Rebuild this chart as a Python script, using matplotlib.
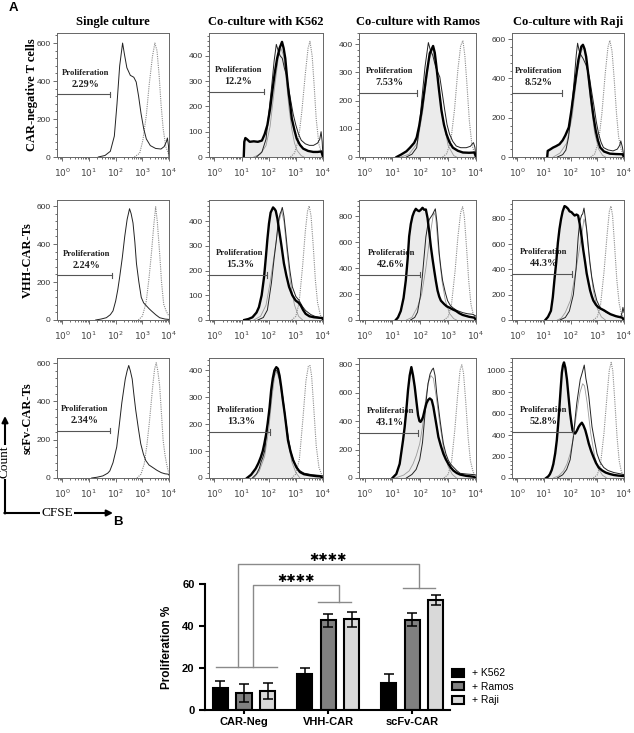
import matplotlib
matplotlib.use('Agg')
import matplotlib.pyplot as plt
from matplotlib.ticker import MultipleLocator, AutoMinorLocator, LogLocator, NullFormatter
from matplotlib.patches import Patch
import numpy as np

plt.rcParams['mathtext.fontset'] = 'stix'

# ---------------- data: flow histograms, points are (log10 CFSE, count) ----------------
col_titles = ['Single culture', 'Co-culture with K562', 'Co-culture with Ramos', 'Co-culture with Raji']
row_labels = ['CAR-negative T cells', 'VHH-CAR-Ts', 'scFv-CAR-Ts']

# CAR-negative T cells
neg_single_thin = [(1.35, 0), (1.6, 8), (1.8, 30), (1.95, 110), (2.05, 280), (2.15, 480), (2.26, 600), (2.33, 540),
                   (2.42, 470), (2.55, 430), (2.68, 420), (2.77, 395), (2.86, 320), (2.95, 230), (3.05, 150),
                   (3.15, 95), (3.3, 60), (3.5, 45), (3.7, 42), (3.82, 55), (3.9, 80), (3.94, 100), (3.98, 60), (4.0, 0)]
neg_single_dot = [(2.7, 0), (2.9, 20), (3.02, 88), (3.15, 220), (3.26, 385), (3.38, 530), (3.47, 600), (3.55, 560),
                  (3.63, 430), (3.7, 280), (3.78, 150), (3.88, 55), (3.96, 25), (4.0, 10)]

neg_k562_thick = [(1.08, 0), (1.1, 60), (1.14, 75), (1.2, 70), (1.3, 60), (1.45, 62), (1.6, 60), (1.75, 65), (1.85, 90),
                  (1.95, 126), (2.05, 190), (2.13, 258), (2.22, 330), (2.31, 390), (2.4, 430), (2.49, 455), (2.55, 430),
                  (2.61, 390), (2.67, 320), (2.73, 258), (2.8, 200), (2.85, 152), (2.95, 105), (3.03, 73), (3.15, 48),
                  (3.27, 33), (3.45, 24), (3.64, 20), (3.8, 20), (3.94, 22), (4.0, 0)]
neg_k562_thin = [(1.55, 0), (1.75, 20), (1.9, 70), (2.0, 170), (2.1, 270), (2.2, 380), (2.28, 445), (2.35, 420),
                 (2.42, 400), (2.5, 390), (2.58, 350), (2.65, 325), (2.72, 280), (2.8, 230), (2.9, 170), (3.0, 126),
                 (3.1, 90), (3.2, 66), (3.35, 52), (3.5, 46), (3.65, 46), (3.8, 55), (3.88, 70), (3.93, 100),
                 (3.97, 60), (4.0, 0)]
neg_k562_gray = [(1.45, 0), (1.7, 12), (1.9, 45), (2.05, 120), (2.2, 260), (2.35, 390), (2.45, 430), (2.55, 400),
                 (2.65, 300), (2.75, 190), (2.85, 110), (2.95, 55), (3.05, 25), (3.2, 5), (3.3, 0)]
neg_k562_dot = [(2.8, 0), (2.95, 15), (3.1, 70), (3.22, 180), (3.35, 330), (3.45, 430), (3.52, 457), (3.6, 400),
                (3.67, 290), (3.75, 150), (3.85, 50), (3.95, 15), (4.0, 5)]

neg_ramos_thick = [(1.15, 0), (1.3, 8), (1.5, 20), (1.63, 33), (1.78, 50), (1.87, 69), (1.96, 110), (2.05, 165),
                   (2.14, 230), (2.23, 296), (2.34, 368), (2.46, 394), (2.52, 370), (2.58, 320), (2.67, 240),
                   (2.76, 165), (2.85, 115), (2.94, 81), (3.05, 52), (3.17, 33), (3.35, 22), (3.53, 16), (3.75, 15),
                   (3.94, 16), (4.0, 0)]
neg_ramos_thin = [(1.5, 0), (1.7, 10), (1.87, 33), (1.96, 100), (2.05, 200), (2.17, 320), (2.29, 406), (2.36, 380),
                  (2.45, 360), (2.55, 320), (2.63, 300), (2.7, 284), (2.79, 225), (2.88, 165), (2.96, 115),
                  (3.05, 81), (3.17, 55), (3.29, 39), (3.45, 33), (3.65, 33), (3.8, 38), (3.88, 48), (3.91, 51),
                  (3.96, 35), (4.0, 0)]
neg_ramos_gray = [(1.3, 0), (1.6, 10), (1.9, 50), (2.1, 170), (2.3, 340), (2.45, 385), (2.6, 300), (2.8, 140),
                  (3.0, 40), (3.2, 5), (3.3, 0)]
neg_ramos_dot = [(2.8, 0), (2.95, 12), (3.1, 60), (3.23, 170), (3.35, 310), (3.45, 395), (3.53, 413), (3.6, 360),
                 (3.68, 250), (3.76, 130), (3.85, 45), (3.95, 12), (4.0, 5)]

neg_raji_thick = [(1.12, 0), (1.14, 31), (1.25, 40), (1.34, 48), (1.45, 55), (1.58, 65), (1.7, 85), (1.8, 110),
                  (1.93, 151), (2.02, 230), (2.11, 322), (2.2, 410), (2.29, 494), (2.4, 562), (2.46, 571), (2.52, 550),
                  (2.58, 511), (2.67, 410), (2.76, 305), (2.85, 210), (2.94, 134), (3.02, 85), (3.11, 48), (3.25, 28),
                  (3.47, 17), (3.7, 15), (3.94, 14), (4.0, 0)]
neg_raji_thin = [(1.5, 0), (1.7, 12), (1.82, 35), (1.92, 100), (2.0, 200), (2.08, 310), (2.15, 420), (2.21, 520),
                 (2.26, 579), (2.32, 540), (2.38, 520), (2.47, 500), (2.57, 470), (2.7, 408), (2.79, 330), (2.88, 254),
                 (2.96, 180), (3.05, 117), (3.14, 75), (3.23, 48), (3.4, 36), (3.59, 31), (3.75, 40), (3.84, 60),
                 (3.88, 82), (3.94, 50), (4.0, 0)]
neg_raji_gray = [(1.35, 0), (1.6, 20), (1.85, 70), (2.05, 200), (2.25, 430), (2.4, 540), (2.5, 560), (2.62, 450),
                 (2.75, 280), (2.9, 120), (3.05, 40), (3.2, 8), (3.3, 0)]
neg_raji_dot = [(2.75, 0), (2.9, 15), (3.05, 80), (3.17, 220), (3.3, 430), (3.4, 560), (3.47, 593), (3.55, 540),
                (3.63, 400), (3.72, 220), (3.8, 100), (3.9, 35), (3.97, 15), (4.0, 8)]

# VHH-CAR-Ts
vhh_single_thin = [(1.25, 0), (1.45, 5), (1.65, 12), (1.8, 28), (1.9, 48), (2.0, 100), (2.08, 160), (2.15, 226),
                   (2.25, 330), (2.34, 440), (2.43, 530), (2.52, 586), (2.58, 560), (2.65, 511), (2.72, 410),
                   (2.78, 297), (2.87, 200), (2.96, 119), (3.05, 90), (3.15, 75), (3.25, 60), (3.34, 48), (3.5, 28),
                   (3.65, 12), (3.85, 5), (4.0, 3)]
vhh_single_dot = [(2.85, 0), (3.0, 20), (3.1, 70), (3.15, 101), (3.25, 220), (3.34, 350), (3.43, 500), (3.5, 596),
                  (3.56, 520), (3.65, 350), (3.72, 200), (3.8, 84), (3.9, 45), (3.96, 30), (4.0, 20)]

vhh_k562_thick = [(1.1, 0), (1.25, 4), (1.4, 11), (1.55, 30), (1.64, 52), (1.74, 100), (1.83, 175), (1.9, 260),
                  (1.95, 325), (2.01, 390), (2.07, 434), (2.16, 455), (2.22, 448), (2.26, 441), (2.32, 410),
                  (2.38, 366), (2.47, 300), (2.56, 229), (2.65, 180), (2.75, 134), (2.87, 100), (2.99, 79), (3.1, 70),
                  (3.18, 59), (3.27, 40), (3.36, 25), (3.5, 15), (3.67, 11), (3.85, 9), (3.98, 8), (4.0, 0)]
vhh_k562_thin = [(1.6, 0), (1.8, 10), (1.95, 40), (2.1, 150), (2.2, 250), (2.28, 320), (2.35, 395), (2.42, 430),
                 (2.46, 440), (2.5, 455), (2.56, 420), (2.62, 360), (2.69, 284), (2.78, 200), (2.87, 134), (3.0, 95),
                 (3.12, 79), (3.24, 55), (3.36, 38), (3.55, 22), (3.7, 15), (3.85, 11), (4.0, 8)]
vhh_k562_gray = [(1.45, 0), (1.7, 15), (1.9, 60), (2.05, 150), (2.2, 260), (2.35, 380), (2.47, 440), (2.56, 400),
                 (2.68, 270), (2.8, 150), (2.95, 60), (3.1, 15), (3.25, 0)]
vhh_k562_dot = [(2.85, 0), (3.0, 15), (3.12, 70), (3.25, 220), (3.35, 360), (3.43, 440), (3.49, 461), (3.56, 420),
                (3.64, 300), (3.72, 160), (3.8, 70), (3.9, 20), (4.0, 5)]

vhh_ramos_thick = [(1.12, 0), (1.2, 20), (1.3, 70), (1.4, 170), (1.48, 305), (1.55, 480), (1.6, 644), (1.66, 740),
                   (1.72, 800), (1.78, 835), (1.84, 857), (1.9, 845), (1.96, 839), (2.02, 850), (2.08, 865),
                   (2.14, 850), (2.2, 852), (2.26, 787), (2.32, 680), (2.38, 565), (2.44, 470), (2.5, 383),
                   (2.56, 300), (2.62, 227), (2.68, 180), (2.74, 149), (2.86, 122), (2.95, 105), (3.04, 96),
                   (3.16, 82), (3.28, 70), (3.4, 52), (3.52, 39), (3.75, 25), (3.94, 18), (4.0, 0)]
vhh_ramos_thin = [(1.65, 0), (1.8, 20), (1.9, 60), (2.0, 180), (2.08, 350), (2.15, 520), (2.2, 640), (2.26, 720),
                  (2.32, 774), (2.44, 813), (2.5, 840), (2.54, 857), (2.6, 750), (2.68, 513), (2.74, 400),
                  (2.8, 305), (2.9, 210), (2.98, 149), (3.07, 115), (3.16, 96), (3.3, 75), (3.52, 57), (3.7, 48),
                  (3.88, 44), (4.0, 30)]
vhh_ramos_gray = [(1.5, 0), (1.7, 20), (1.9, 100), (2.05, 200), (2.2, 400), (2.35, 650), (2.48, 830), (2.55, 800),
                  (2.65, 550), (2.78, 300), (2.9, 150), (3.05, 50), (3.2, 10), (3.3, 0)]
vhh_ramos_dot = [(2.85, 0), (3.0, 25), (3.12, 120), (3.25, 380), (3.35, 640), (3.45, 830), (3.52, 873), (3.58, 800),
                 (3.66, 560), (3.74, 300), (3.82, 120), (3.9, 45), (4.0, 15)]

vhh_raji_thick = [(1.05, 0), (1.15, 25), (1.26, 73), (1.33, 180), (1.39, 315), (1.46, 460), (1.52, 611), (1.58, 720),
                  (1.64, 800), (1.7, 860), (1.77, 902), (1.83, 895), (1.9, 881), (1.96, 860), (2.03, 854), (2.09, 840),
                  (2.15, 827), (2.22, 835), (2.28, 827), (2.34, 760), (2.41, 660), (2.47, 558), (2.54, 460),
                  (2.6, 369), (2.67, 295), (2.73, 234), (2.79, 190), (2.85, 154), (2.95, 120), (3.04, 100),
                  (3.14, 88), (3.24, 78), (3.36, 62), (3.49, 46), (3.7, 30), (3.93, 19), (4.0, 0)]
vhh_raji_thin = [(1.6, 0), (1.8, 20), (1.95, 70), (2.1, 200), (2.2, 400), (2.28, 650), (2.34, 780), (2.41, 830),
                 (2.45, 840), (2.5, 886), (2.56, 790), (2.62, 680), (2.66, 585), (2.72, 460), (2.79, 342), (2.88, 240),
                 (2.98, 154), (3.1, 100), (3.24, 73), (3.36, 58), (3.49, 46), (3.7, 30), (3.87, 19), (3.93, 60),
                 (3.96, 100), (4.0, 60)]
vhh_raji_gray = [(1.5, 0), (1.65, 15), (1.8, 60), (2.0, 160), (2.22, 423), (2.41, 665), (2.5, 800), (2.58, 740),
                 (2.7, 480), (2.85, 230), (3.0, 90), (3.15, 25), (3.3, 0)]
vhh_raji_dot = [(2.85, 0), (3.0, 25), (3.12, 120), (3.25, 380), (3.36, 660), (3.45, 860), (3.51, 902), (3.57, 830),
                (3.65, 580), (3.73, 320), (3.82, 130), (3.9, 50), (4.0, 15)]

# scFv-CAR-Ts
scfv_single_thin = [(1.1, 0), (1.3, 4), (1.52, 11), (1.7, 25), (1.78, 37), (1.9, 80), (2.04, 162), (2.13, 270),
                    (2.23, 392), (2.3, 460), (2.36, 517), (2.43, 560), (2.49, 588), (2.55, 560), (2.62, 517),
                    (2.68, 440), (2.75, 357), (2.85, 260), (2.94, 179), (3.04, 125), (3.13, 91), (3.25, 68),
                    (3.39, 55), (3.55, 40), (3.71, 28), (3.85, 22), (3.97, 20), (4.0, 15)]
scfv_single_dot = [(2.8, 0), (2.95, 20), (3.07, 73), (3.17, 170), (3.26, 286), (3.33, 390), (3.39, 481), (3.46, 570),
                   (3.52, 602), (3.58, 560), (3.65, 481), (3.72, 330), (3.78, 197), (3.85, 120), (3.91, 73),
                   (3.97, 37), (4.0, 25)]

scfv_k562_thick = [(1.2, 0), (1.35, 12), (1.52, 35), (1.62, 55), (1.71, 78), (1.78, 100), (1.84, 128), (1.9, 160),
                   (1.96, 202), (2.03, 260), (2.09, 326), (2.15, 370), (2.21, 400), (2.28, 412), (2.34, 406),
                   (2.4, 380), (2.46, 338), (2.52, 290), (2.59, 239), (2.65, 190), (2.71, 140), (2.8, 100),
                   (2.9, 66), (3.02, 40), (3.15, 22), (3.3, 14), (3.52, 10), (3.75, 7), (3.9, 6), (4.0, 0)]
scfv_k562_thin = [(1.4, 0), (1.55, 15), (1.65, 35), (1.72, 60), (1.78, 75), (1.85, 100), (1.95, 190), (2.05, 280),
                  (2.15, 360), (2.25, 402), (2.33, 395), (2.42, 360), (2.52, 300), (2.62, 220), (2.72, 150),
                  (2.82, 95), (2.95, 55), (3.1, 30), (3.3, 18), (3.6, 12), (3.85, 10), (4.0, 8)]
scfv_k562_gray = [(1.45, 0), (1.65, 25), (1.85, 80), (2.0, 180), (2.12, 300), (2.22, 380), (2.3, 395), (2.4, 360),
                  (2.55, 260), (2.7, 140), (2.85, 60), (3.0, 20), (3.15, 0)]
scfv_k562_dot = [(2.85, 0), (3.0, 15), (3.13, 70), (3.26, 220), (3.37, 360), (3.46, 415), (3.52, 418), (3.58, 380),
                 (3.66, 260), (3.75, 120), (3.85, 40), (3.95, 12), (4.0, 5)]

scfv_ramos_thick = [(1.0, 0), (1.14, 28), (1.26, 99), (1.38, 264), (1.44, 359), (1.5, 480), (1.56, 618), (1.62, 720),
                    (1.68, 779), (1.74, 720), (1.8, 642), (1.86, 540), (1.92, 441), (1.97, 400), (2.01, 394),
                    (2.06, 410), (2.1, 430), (2.16, 480), (2.22, 524), (2.28, 548), (2.34, 559), (2.41, 548),
                    (2.47, 500), (2.53, 430), (2.59, 360), (2.65, 288), (2.74, 225), (2.83, 170), (2.92, 130),
                    (3.01, 99), (3.1, 72), (3.19, 52), (3.31, 35), (3.43, 24), (3.65, 15), (3.91, 9), (4.0, 0)]
scfv_ramos_thin = [(1.5, 0), (1.7, 25), (1.85, 60), (1.98, 130), (2.08, 250), (2.16, 430), (2.22, 560), (2.28, 665),
                   (2.35, 730), (2.42, 760), (2.47, 772), (2.53, 720), (2.59, 595), (2.65, 500), (2.71, 406),
                   (2.77, 320), (2.83, 241), (2.92, 170), (3.01, 123), (3.1, 95), (3.19, 76), (3.31, 52), (3.43, 33),
                   (3.65, 28), (3.91, 24), (4.0, 20)]
scfv_ramos_gray = [(1.1, 0), (1.4, 20), (1.6, 50), (1.74, 99), (1.86, 160), (1.98, 241), (2.08, 360), (2.16, 500),
                   (2.22, 590), (2.28, 665), (2.38, 720), (2.47, 700), (2.58, 560), (2.7, 380), (2.85, 190),
                   (3.0, 80), (3.15, 25), (3.3, 0)]
scfv_ramos_dot = [(2.85, 0), (3.0, 25), (3.12, 110), (3.24, 340), (3.34, 580), (3.43, 760), (3.49, 795), (3.55, 740),
                  (3.63, 540), (3.72, 280), (3.8, 120), (3.9, 40), (4.0, 12)]

scfv_raji_thick = [(1.08, 0), (1.16, 15), (1.22, 35), (1.29, 75), (1.35, 130), (1.42, 230), (1.48, 351), (1.53, 500),
                   (1.58, 668), (1.63, 850), (1.67, 984), (1.71, 1050), (1.75, 1079), (1.8, 1030), (1.86, 921),
                   (1.92, 760), (1.98, 604), (2.03, 510), (2.07, 446), (2.12, 420), (2.17, 415), (2.23, 440),
                   (2.3, 478), (2.36, 500), (2.42, 516), (2.48, 490), (2.55, 446), (2.61, 390), (2.68, 320),
                   (2.77, 250), (2.86, 193), (2.95, 140), (3.05, 98), (3.18, 70), (3.31, 51), (3.46, 38), (3.62, 28),
                   (3.8, 22), (4.0, 19)]
scfv_raji_thin = [(1.5, 0), (1.7, 30), (1.85, 80), (1.98, 170), (2.1, 380), (2.17, 560), (2.23, 699), (2.3, 820),
                  (2.36, 921), (2.43, 980), (2.51, 1054), (2.57, 930), (2.63, 850), (2.68, 763), (2.74, 620),
                  (2.8, 478), (2.9, 340), (2.99, 225), (3.1, 150), (3.24, 98), (3.4, 70), (3.62, 51), (3.8, 42),
                  (3.94, 35), (4.0, 30)]
scfv_raji_gray = [(1.35, 0), (1.55, 20), (1.73, 66), (1.86, 130), (1.98, 225), (2.08, 350), (2.17, 510), (2.25, 650),
                  (2.35, 800), (2.45, 880), (2.52, 860), (2.62, 700), (2.75, 420), (2.9, 200), (3.05, 80), (3.2, 25),
                  (3.35, 0)]
scfv_raji_dot = [(2.85, 0), (3.0, 30), (3.12, 130), (3.25, 420), (3.36, 760), (3.45, 1010), (3.52, 1079), (3.58, 1000),
                 (3.66, 700), (3.74, 380), (3.82, 160), (3.9, 60), (4.0, 20)]

# proliferation gates: right end (log10 CFSE), gate height (count), percentage
gate_ends = [[1.79, 1.83, 1.87, 1.67], [1.88, 1.95, 2.0, 2.05], [1.78, 2.03, 1.92, 2.07]]
gate_levels = [[330, 258, 227, 326], [235, 182, 349, 364], [247, 171, 316, 430]]
gate_pcts = [['2.29%', '12.2%', '7.53%', '8.52%'], ['2.24%', '15.3%', '42.6%', '44.3%'],
             ['2.34%', '13.3%', '43.1%', '52.8%']]

y_tops = [[653, 490, 440, 631], [632, 485, 925, 950], [627, 446, 843, 1120]]
y_steps = [[200, 100, 100, 200], [200, 100, 200, 200], [200, 100, 200, 200]]

# ---------------- data: bar chart ----------------
groups = ['CAR-Neg', 'VHH-CAR', 'scFv-CAR']
k562 = [10.7, 17.0, 12.7]
k562_err = [2.9, 2.9, 4.3]
ramos = [8.3, 42.7, 43.0]
ramos_err = [4.3, 3.1, 3.2]
raji = [9.2, 43.3, 52.5]
raji_err = [3.8, 3.6, 2.3]
legend_labels = ['+ K562', '+ Ramos', '+ Raji']

W, H = 634, 733
fig = plt.figure(figsize=(W / 100, H / 100), dpi=100)


def px_axes(left, top, width, height):
    return fig.add_axes([left / W, 1 - (top + height) / H, width / W, height / H])


def xy(points):
    arr = np.array(points, dtype=float)
    return 10 ** arr[:, 0], arr[:, 1]


SERIF = 'Liberation Serif'
SANS = 'Liberation Sans'

panels = [
    [(neg_single_thin, neg_single_dot, None, None),
     (neg_k562_thin, neg_k562_dot, neg_k562_gray, neg_k562_thick),
     (neg_ramos_thin, neg_ramos_dot, neg_ramos_gray, neg_ramos_thick),
     (neg_raji_thin, neg_raji_dot, neg_raji_gray, neg_raji_thick)],
    [(vhh_single_thin, vhh_single_dot, None, None),
     (vhh_k562_thin, vhh_k562_dot, vhh_k562_gray, vhh_k562_thick),
     (vhh_ramos_thin, vhh_ramos_dot, vhh_ramos_gray, vhh_ramos_thick),
     (vhh_raji_thin, vhh_raji_dot, vhh_raji_gray, vhh_raji_thick)],
    [(scfv_single_thin, scfv_single_dot, None, None),
     (scfv_k562_thin, scfv_k562_dot, scfv_k562_gray, scfv_k562_thick),
     (scfv_ramos_thin, scfv_ramos_dot, scfv_ramos_gray, scfv_ramos_thick),
     (scfv_raji_thin, scfv_raji_dot, scfv_raji_gray, scfv_raji_thick)],
]

col_left = [57, 209, 359, 512]
col_width = [112, 114, 117, 112]
row_top = [33, 200, 358]
row_height = [124, 120, 120]

for r in range(3):
    for c in range(4):
        ax = px_axes(col_left[c], row_top[r], col_width[c], row_height[r])
        thin, dot, gray, thick = panels[r][c]
        ax.set_xscale('log')
        ax.set_xlim(10 ** -0.2, 10 ** 4.0)
        ax.set_ylim(0, y_tops[r][c])

        if thick is not None:
            tx, ty = xy(thick)
            ax.fill_between(tx, ty, color='#ebebeb', lw=0, zorder=1)
        x, y = xy(dot)
        ax.plot(x, y, color='#8a8a8a', lw=0.8, ls=(0, (1, 1)), zorder=2)
        if gray is not None:
            x, y = xy(gray)
            ax.plot(x, y, color='#9a9a9a', lw=0.6, zorder=2)
        x, y = xy(thin)
        ax.plot(x, y, color='#222222', lw=0.7, zorder=3)
        if thick is not None:
            ax.plot(tx, ty, color='black', lw=1.7, zorder=4)

        # gate
        g_end = 10 ** gate_ends[r][c]
        g_y = gate_levels[r][c]
        tick_h = 0.022 * y_tops[r][c]
        ax.plot([10 ** -0.2, g_end], [g_y, g_y], color='#555555', lw=0.8, zorder=5)
        ax.plot([g_end, g_end], [g_y - tick_h, g_y + tick_h], color='#555555', lw=0.8, zorder=5)
        mid = 10 ** ((-0.2 + gate_ends[r][c]) / 2 + 0.06)
        ax.annotate('Proliferation', xy=(mid, g_y), xytext=(0, 15.5), textcoords='offset points',
                    ha='center', va='center', fontsize=6.2, fontweight='bold', family=SERIF, color='#222')
        ax.annotate(gate_pcts[r][c], xy=(mid, g_y), xytext=(0, 7.3), textcoords='offset points',
                    ha='center', va='center', fontsize=7.3, fontweight='bold', family=SERIF, color='#222')

        # axes styling
        for sp in ax.spines.values():
            sp.set_color('#666666')
            sp.set_linewidth(0.7)
        ax.yaxis.set_major_locator(MultipleLocator(y_steps[r][c]))
        ax.yaxis.set_minor_locator(AutoMinorLocator(5))
        ax.xaxis.set_major_locator(LogLocator(base=10, numticks=10))
        ax.xaxis.set_minor_locator(LogLocator(base=10, subs=np.arange(2, 10), numticks=20))
        ax.xaxis.set_minor_formatter(NullFormatter())
        ax.tick_params(which='both', direction='out', color='#555555', width=0.6)
        ax.tick_params(which='major', length=3)
        ax.tick_params(which='minor', length=1.6)
        ax.tick_params(axis='y', labelsize=6, labelcolor='#333333', pad=1.5)
        ax.tick_params(axis='x', labelsize=6.5, labelcolor='#444444', pad=4)
        for lbl in ax.get_yticklabels():
            lbl.set_family(SANS)

# overlay for figure-level text and arrows
ov = fig.add_axes([0, 0, 1, 1])
ov.set_xlim(0, W)
ov.set_ylim(H, 0)
ov.axis('off')

col_centers = [col_left[c] + col_width[c] / 2 for c in range(4)]
for c, title in enumerate(col_titles):
    ov.text(col_centers[c], 22, title, ha='center', va='center', fontsize=9, fontweight='bold', family=SERIF)
row_x = [32, 28, 28]
for r, lab in enumerate(row_labels):
    ov.text(row_x[r], row_top[r] + row_height[r] / 2, lab, ha='center', va='center', rotation=90,
            fontsize=9, fontweight='bold', family=SERIF)

ov.text(13, 8, 'A', ha='center', va='center', fontsize=9.5, fontweight='bold', family=SANS)
ov.text(118, 522, 'B', ha='center', va='center', fontsize=9.5, fontweight='bold', family=SANS)

# Count / CFSE arrows
ov.annotate('', xy=(5, 416), xytext=(5, 513.5),
            arrowprops=dict(arrowstyle='-|>', lw=1.5, color='black', mutation_scale=9, shrinkA=0, shrinkB=0))
ov.annotate('', xy=(113, 513), xytext=(4.3, 513),
            arrowprops=dict(arrowstyle='-|>', lw=1.5, color='black', mutation_scale=9, shrinkA=0, shrinkB=0))
ov.text(5, 462, 'Count', rotation=90, ha='center', va='center', fontsize=9.5, family=SERIF,
        bbox=dict(facecolor='white', edgecolor='none', pad=0.5))
ov.text(57, 513, 'CFSE', ha='center', va='center', fontsize=9.5, family=SERIF,
        bbox=dict(facecolor='white', edgecolor='none', pad=0.5))

# ---------------- panel B ----------------
bx = px_axes(205, 552.5, 245, 157.5)
pos = np.arange(len(groups))
off = 0.28
bw = 0.18
series = [(k562, k562_err, 'black'), (ramos, ramos_err, '#808080'), (raji, raji_err, '#d9d9d9')]
handles = []
for i, (vals, errs, colr) in enumerate(series):
    xs = pos + (i - 1) * off
    bx.bar(xs, vals, width=bw, color=colr, edgecolor='black', linewidth=1.5, zorder=2)
    bx.errorbar(xs, vals, yerr=errs, fmt='none', ecolor='black', elinewidth=1.1, capsize=3.5, capthick=1.1, zorder=3)
    handles.append(Patch(facecolor=colr, edgecolor='black', linewidth=1.5, label=legend_labels[i]))

bx.set_xlim(-0.464, 2.45)
bx.set_ylim(0, 75)
bx.spines['top'].set_visible(False)
bx.spines['right'].set_visible(False)
bx.spines['left'].set_bounds(0, 60)
bx.spines['left'].set_linewidth(1.5)
bx.spines['bottom'].set_linewidth(1.5)
bx.set_yticks([0, 20, 40, 60])
bx.set_xticks(pos)
bx.set_xticklabels(groups)
bx.tick_params(width=1.5, length=4)
bx.tick_params(axis='x', length=3, pad=2)
for lbl in bx.get_xticklabels() + bx.get_yticklabels():
    lbl.set_family(SANS)
    lbl.set_fontweight('bold')
    lbl.set_fontsize(8)
bx.set_ylabel('Proliferation %', family=SANS, fontweight='bold', fontsize=8.5, labelpad=4)
bx.yaxis.set_label_coords(-0.13, 60 / 75 / 2)

# significance brackets
bk = dict(color='#8a8a8a', lw=1.0, clip_on=False, zorder=1)
bx.plot([-0.33, 0.39], [20.7, 20.7], **bk)
bx.plot([0.107, 0.107, 1.13, 1.13], [20.7, 59.7, 59.7, 51.2], **bk)
bx.plot([0.88, 1.27], [51.2, 51.2], **bk)
bx.plot([-0.07, -0.07, 2.08, 2.08], [20.7, 69.7, 69.7, 58.1], **bk)
bx.plot([1.89, 2.27], [58.1, 58.1], **bk)
bx.text(0.62, 62.6, '✱✱✱✱', ha='center', va='center', fontsize=8, family='DejaVu Sans', clip_on=False)
bx.text(1.0, 72.6, '✱✱✱✱', ha='center', va='center', fontsize=8, family='DejaVu Sans', clip_on=False)

fig.legend(handles=handles, loc='upper left', bbox_to_anchor=(448 / W, 1 - 664 / H), frameon=False,
           prop={'family': SANS, 'size': 7.5}, handlelength=1.1, handleheight=0.8, handletextpad=0.8,
           labelspacing=0.35, borderaxespad=0)

fig.savefig('out.png', dpi=100)
